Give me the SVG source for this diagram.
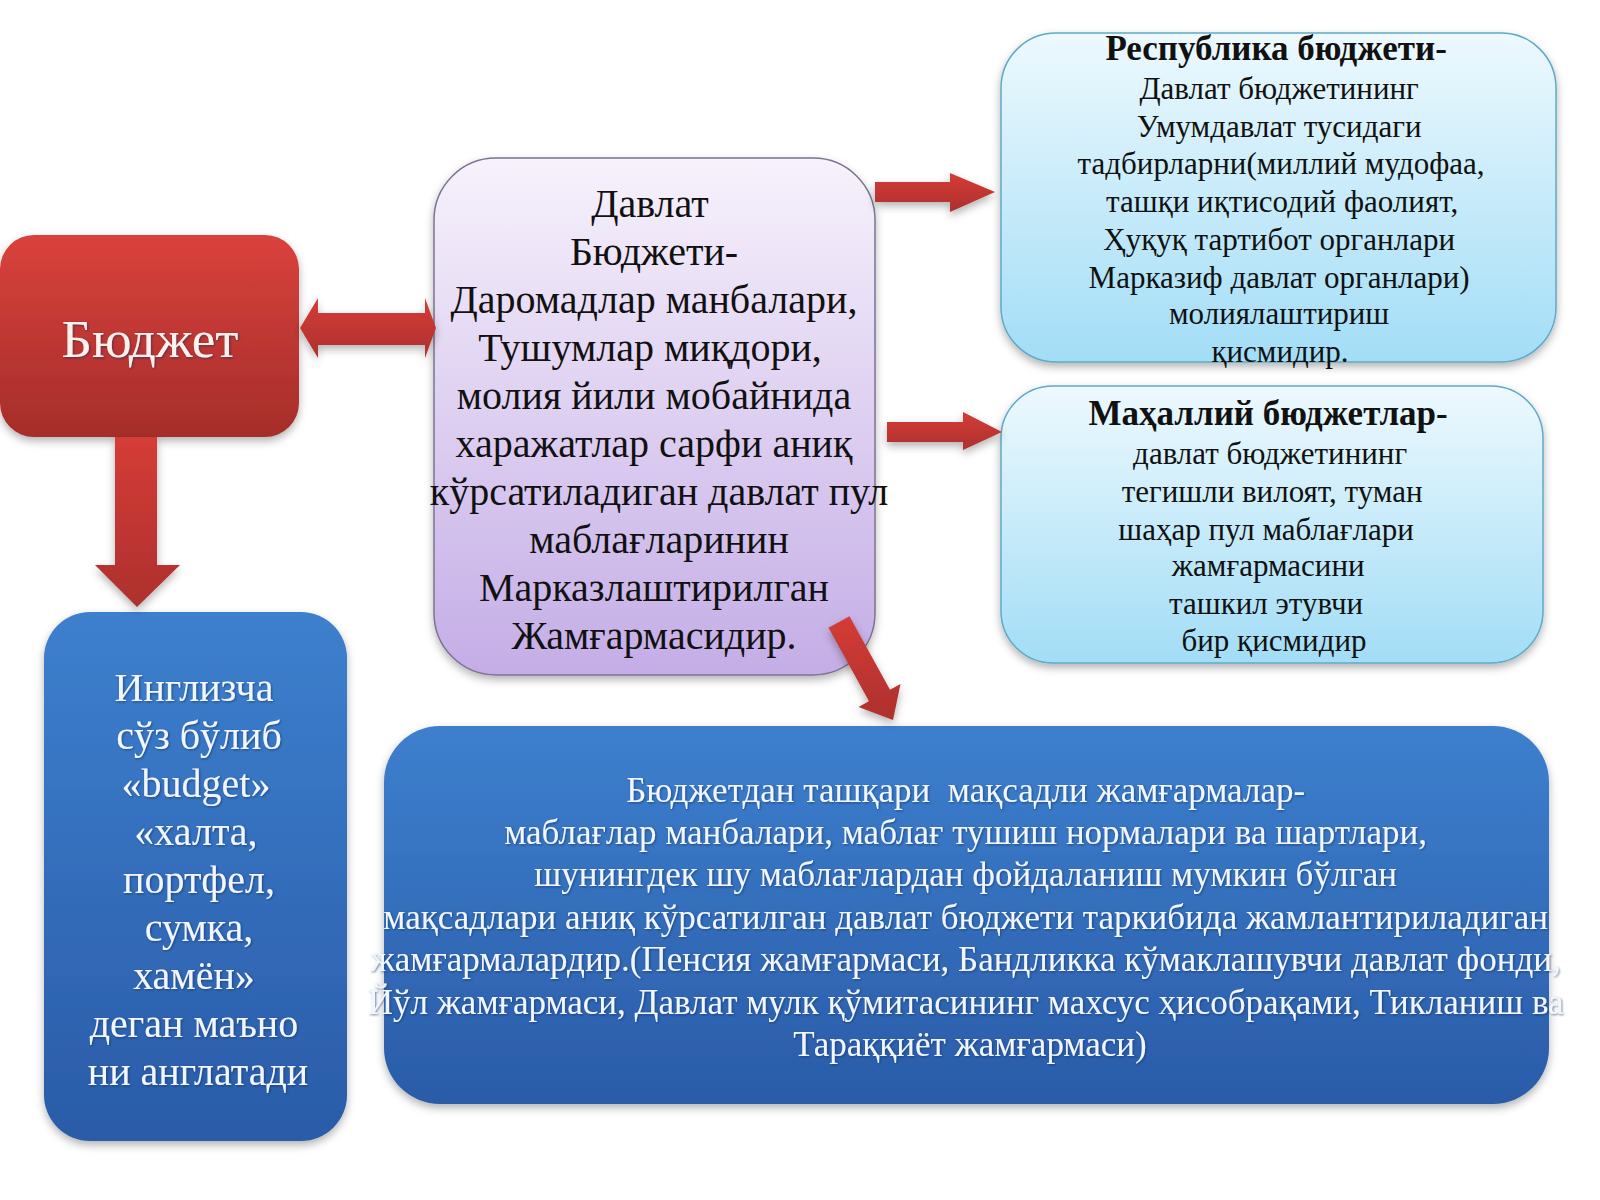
<svg xmlns="http://www.w3.org/2000/svg" width="1600" height="1200" viewBox="0 0 1600 1200">
<style>
  .serif { font-family: "Liberation Serif", "Times New Roman", serif; }
  .dark { fill: #111111; }
  .light { fill: #f2f7ff; }
  .mid { text-anchor: middle; }
  .bold { font-weight: bold; }
</style>
<defs>
  <linearGradient id="gRed" x1="0" y1="0" x2="0" y2="1">
    <stop offset="0" stop-color="#da423c"/>
    <stop offset="1" stop-color="#a52d2a"/>
  </linearGradient>
  <linearGradient id="gPurple" x1="0" y1="0" x2="0" y2="1">
    <stop offset="0" stop-color="#f7f2fc"/>
    <stop offset="1" stop-color="#c4ade6"/>
  </linearGradient>
  <linearGradient id="gCyan" x1="0" y1="0" x2="0" y2="1">
    <stop offset="0" stop-color="#edf9fe"/>
    <stop offset="1" stop-color="#a2ddf6"/>
  </linearGradient>
  <linearGradient id="gBlue" x1="0" y1="0" x2="0" y2="1">
    <stop offset="0" stop-color="#3d80ce"/>
    <stop offset="1" stop-color="#2a5ba8"/>
  </linearGradient>
  <linearGradient id="gArrow" x1="0" y1="0" x2="0" y2="1">
    <stop offset="0" stop-color="#d53c37"/>
    <stop offset="1" stop-color="#ad302d"/>
  </linearGradient>
  <filter id="shadow" x="-10%" y="-10%" width="120%" height="125%">
    <feDropShadow dx="0" dy="4" stdDeviation="4" flood-color="#000000" flood-opacity="0.3"/>
  </filter>
  <filter id="tglow" x="-5%" y="-30%" width="110%" height="160%">
    <feDropShadow dx="1" dy="1" stdDeviation="1.2" flood-color="#0a2a60" flood-opacity="0.6"/>
  </filter>
</defs>
<rect width="1600" height="1200" fill="#ffffff"/>

<g id="node-budget">
  <rect x="0" y="235" width="299" height="202" rx="34" fill="url(#gRed)" filter="url(#shadow)"/>
  <text class="serif mid" x="150" y="357" font-size="53" fill="#fdf1ee" filter="url(#tglow)">Бюджет</text>
</g>

<g id="node-davlat">
  <rect x="434" y="158" width="441" height="517" rx="62" fill="url(#gPurple)" stroke="#7c7392" stroke-width="1.5" filter="url(#shadow)"/>
  <text class="serif mid dark" font-size="40">
    <tspan x="655" y="217">Давлат</tspan>
    <tspan x="659" y="265">Бюджети-</tspan>
    <tspan x="659" y="313">Даромадлар манбалари,</tspan>
    <tspan x="655" y="361">Тушумлар миқдори,</tspan>
    <tspan x="659" y="409">молия йили мобайнида</tspan>
    <tspan x="659" y="457">харажатлар сарфи аниқ</tspan>
    <tspan x="664" y="505">кўрсатиладиган давлат пул</tspan>
    <tspan x="664" y="553">маблағларинин</tspan>
    <tspan x="659" y="601">Марказлаштирилган</tspan>
    <tspan x="654" y="649">Жамғармасидир.</tspan>
  </text>
</g>

<g id="node-respublika">
  <rect x="1001" y="33" width="555" height="329" rx="55" fill="url(#gCyan)" stroke="#5fa9c6" stroke-width="1.5" filter="url(#shadow)"/>
  <text class="serif mid dark" font-size="31">
    <tspan class="bold" font-size="35" x="1280" y="60">Республика бюджети-</tspan>
    <tspan x="1283" y="99">Давлат бюджетининг</tspan>
    <tspan x="1283" y="137">Умумдавлат тусидаги</tspan>
    <tspan x="1285" y="174">тадбирларни(миллий мудофаа,</tspan>
    <tspan x="1286" y="212">ташқи иқтисодий фаолият,</tspan>
    <tspan x="1283" y="250">Ҳуқуқ тартибот органлари</tspan>
    <tspan x="1283" y="288">Марказиф давлат органлари)</tspan>
    <tspan x="1283" y="324">молиялаштириш</tspan>
    <tspan x="1280" y="362">қисмидир.</tspan>
  </text>
</g>

<g id="node-mahalliy">
  <rect x="1001" y="386" width="542" height="277" rx="52" fill="url(#gCyan)" stroke="#5fa9c6" stroke-width="1.5" filter="url(#shadow)"/>
  <text class="serif mid dark" font-size="31">
    <tspan class="bold" font-size="35" x="1272" y="425">Маҳаллий бюджетлар-</tspan>
    <tspan x="1274" y="464">давлат бюджетининг</tspan>
    <tspan x="1276" y="502">тегишли вилоят, туман</tspan>
    <tspan x="1270" y="540">шаҳар пул маблағлари</tspan>
    <tspan x="1272" y="576">жамғармасини</tspan>
    <tspan x="1270" y="614">ташкил этувчи</tspan>
    <tspan x="1274" y="651">бир қисмидир</tspan>
  </text>
</g>

<g id="node-inglizcha">
  <rect x="44" y="612" width="303" height="529" rx="46" fill="url(#gBlue)" filter="url(#shadow)"/>
  <text class="serif mid light" font-size="40" filter="url(#tglow)">
    <tspan x="199" y="701">Инглизча</tspan>
    <tspan x="204" y="749">сўз бўлиб</tspan>
    <tspan x="201" y="797">«budget»</tspan>
    <tspan x="201" y="845">«халта,</tspan>
    <tspan x="204" y="893">портфел,</tspan>
    <tspan x="204" y="941">сумка,</tspan>
    <tspan x="199" y="989">хамён»</tspan>
    <tspan x="199" y="1037">деган маъно</tspan>
    <tspan x="198" y="1085">ни англатади</tspan>
  </text>
</g>

<g id="node-fondlar">
  <rect x="384" y="726" width="1165" height="378" rx="56" fill="url(#gBlue)" filter="url(#shadow)"/>
  <text class="serif mid light" font-size="35" filter="url(#tglow)">
    <tspan x="970" y="802">Бюджетдан ташқари&#160; мақсадли жамғармалар-</tspan>
    <tspan x="970" y="844">маблағлар манбалари, маблағ тушиш нормалари ва шартлари,</tspan>
    <tspan x="970" y="886">шунингдек шу маблағлардан фойдаланиш мумкин бўлган</tspan>
    <tspan x="970" y="929">мақсадлари аниқ кўрсатилган давлат бюджети таркибида жамлантириладиган</tspan>
    <tspan x="970" y="971">жамғармалардир.(Пенсия жамғармаси, Бандликка кўмаклашувчи давлат фонди,</tspan>
    <tspan x="970" y="1014">Йўл жамғармаси, Давлат мулк қўмитасининг махсус ҳисобрақами, Тикланиш ва</tspan>
    <tspan x="970" y="1056">Тараққиёт жамғармаси)</tspan>
  </text>
</g>

<g id="connectors" fill="url(#gArrow)" filter="url(#shadow)">
  <polygon id="arrow-budget-davlat" points="300,328 318,298 318,313 425,313 425,298 436,328 425,358 425,345 318,345 318,358"/>
  <polygon id="arrow-budget-inglizcha" points="115,437 157,437 157,565 180,565 137,607 95,565 115,565"/>
  <polygon id="arrow-davlat-respublika" points="875,182 950,182 950,173 995,192 950,212 950,202 875,202"/>
  <polygon id="arrow-davlat-mahalliy" points="887,422 963,422 963,412 1002,432 963,450 963,442 887,442"/>
  <polygon id="arrow-davlat-fondlar" points="828.5,627.8 849.5,616.2 890,689.7 900.5,684 893,720 858.5,707 869,701.3"/>
</g>
</svg>
